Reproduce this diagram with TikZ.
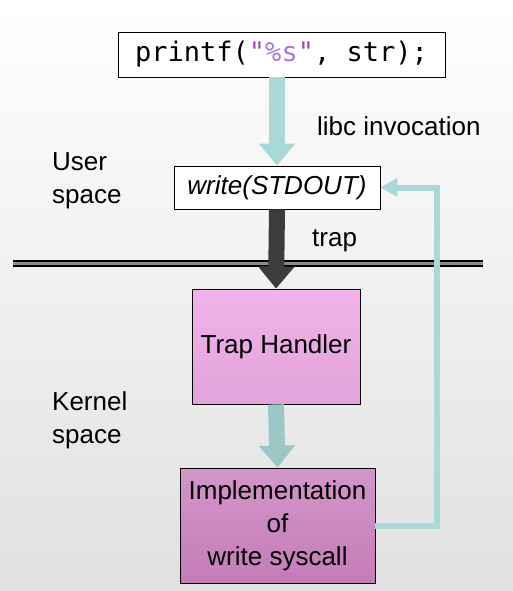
\documentclass[tikz,border=0pt]{standalone}
\usepackage{fontspec}
\setmainfont{Liberation Sans}
\setmonofont{DejaVu Sans Mono}
\usepackage{tikz}
\usetikzlibrary{arrows.meta}
\definecolor{callblue}{HTML}{A8D8D8}
\definecolor{trapgray}{HTML}{3C3C3C}
\definecolor{pinklight}{HTML}{F2B2EA}
\definecolor{pinkmid}{HTML}{E2A2DA}
\definecolor{pinkdark}{HTML}{D496CA}
\definecolor{pinkdeep}{HTML}{C47CB8}
\definecolor{fmtquote}{HTML}{A04CA8}
\definecolor{fmtspec}{HTML}{A478DC}

\begin{document}
\begin{tikzpicture}[x=1pt, y=-1pt,
    txt/.style={font=\fontsize{26}{33}\selectfont, align=center, inner sep=0pt},
    codebox/.style={draw, thick, fill=white, minimum width=327pt, minimum height=45pt, inner sep=0pt},
    callbox/.style={draw, thick, fill=white, txt, minimum width=206pt, minimum height=43pt},
    kbox/.style={draw, thick, txt, minimum height=115pt},
    fatarrow/.style={line width=16pt, -{Triangle[length=22pt, width=35pt]}}]
    \useasboundingbox (0,0) rectangle (513,591);
    \shade[top color=white, middle color=white, bottom color=black!12] (0,0) rectangle (513,591);

    \node[codebox] (printf) at (281.5, 54.5)
        {\fontsize{27}{30}\selectfont\ttfamily printf(\textcolor{fmtquote}{"}\textcolor{fmtspec}{\%s}\textcolor{fmtquote}{"}, str);};
    \node[callbox] (write) at (277, 187.5) {\itshape write(STDOUT)};
    \node[kbox, top color=pinklight, bottom color=pinkmid, minimum width=168pt] (handler) at (276, 346.5)
        {Trap Handler};
    \node[kbox, top color=pinkdark, bottom color=pinkdeep, minimum width=195pt] (impl) at (277.5, 525.5)
        {Implementation\\of\\write syscall};

    % user / kernel boundary
    \coordinate (bl) at (13, 263.5);
    \coordinate (br) at (483, 263.5);
    \draw[line width=2pt, double=black!45, double distance=2.5pt] (bl) -- (br);

    \node[txt, align=left, anchor=west] (user) at (52, 181) {User\\space};
    \node[txt, align=left, anchor=west] (kernel) at (52, 420) {Kernel\\space};
    \node[txt, anchor=west] (libc) at (317, 126) {libc invocation};
    \node[txt, anchor=west] (trap) at (312, 241) {trap};

    \draw[fatarrow, callblue] (printf.south -| write) -- (write.north);
    \draw[fatarrow, trapgray] (write.south) -- (handler.north);
    \draw[fatarrow, callblue!92!black] (handler.south) -- (impl.north);

    % return path
    \coordinate (ret) at (437, 0);
    \draw[callblue, line width=6pt, -{Triangle[length=17pt, width=18pt]}]
        (impl.east) -- (impl.east -| ret) -- (write.east -| ret) -- (write.east);
\end{tikzpicture}
\end{document}
